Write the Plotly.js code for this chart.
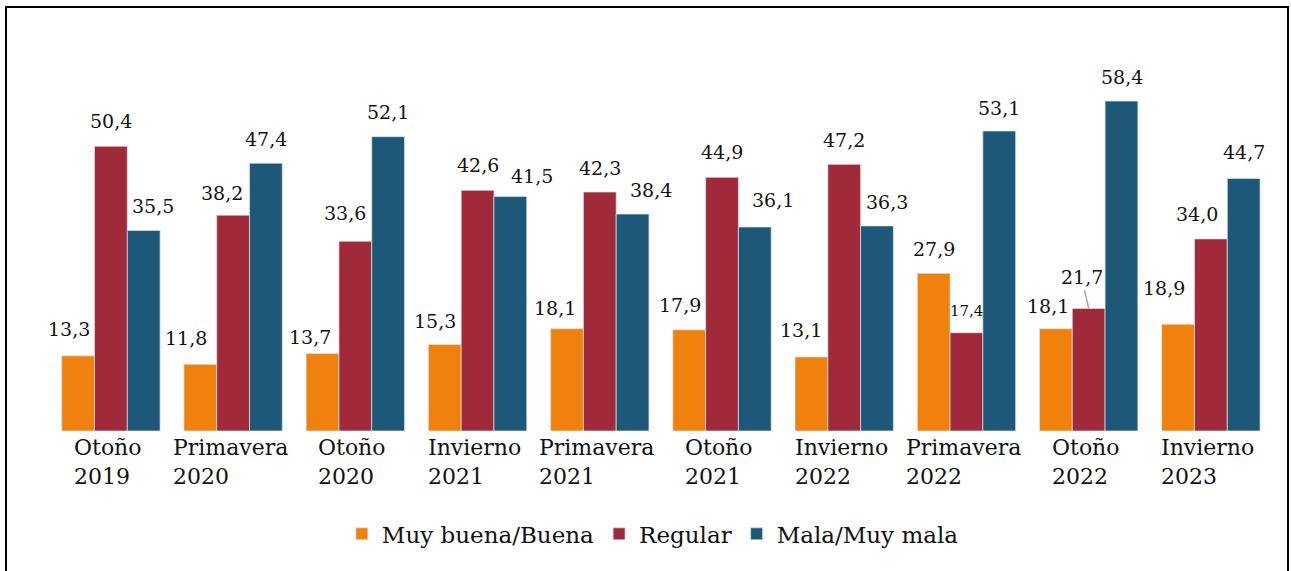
<!DOCTYPE html>
<html>
<head>
<meta charset="utf-8">
<script src="https://cdn.plot.ly/plotly-3.0.1.min.js"></script>
<style>
html,body{margin:0;padding:0;background:#fff;}
#chart{width:1291px;height:571px;}
</style>
</head>
<body>
<div id="chart"></div>
<script>
const categories = ["Otoño 2019","Primavera 2020","Otoño 2020","Invierno 2021","Primavera 2021","Otoño 2021","Invierno 2022","Primavera 2022","Otoño 2022","Invierno 2023"];
const seriesNames = ["Muy buena/Buena","Regular","Mala/Muy mala"];
const buena   = [13.3, 11.8, 13.7, 15.3, 18.1, 17.9, 13.1, 27.9, 18.1, 18.9];
const regular = [50.4, 38.2, 33.6, 42.6, 42.3, 44.9, 47.2, 17.4, 21.7, 34.0];
const mala    = [35.5, 47.4, 52.1, 41.5, 38.4, 36.1, 36.3, 53.1, 58.4, 44.7];
const colors = ["#F0810D","#A02A3A","#1E5878"];

const W = 1291, H = 571;
const margin = {l:46, r:19, t:50, b:140};
const plotW = W - margin.l - margin.r;
const plotH = H - margin.t - margin.b;
const bargap = 0.195;
const catW = plotW / categories.length;
const barW = catW * (1 - bargap) / 3;
const FONT = "DejaVu Serif, Liberation Serif, serif";

// label placement tweaks in pixels (style only): horizontal offset and gap above bar
const labelDx = [
  [-9, -14, -12, -10, -12, -9, -10, 0, -8, -14],
  [0, -11, -10, 0, 0, 0, 0, 0, -7, -14],
  [9, 0, 0, 22, 18, 18, 10, 0, 0, 0]
];
const labelGap = [
  [27, 26, 17, 24, 21, 25, 27, 24, 23, 36],
  [25, 22, 28, 25, 24, 25, 24, 22, 31, 25],
  [24, 24, 25, 21, 24, 27, 24, 23, 24, 26]
];

const allSeries = [buena, regular, mala];
const traces = allSeries.map((vals, i) => ({
  type: "bar",
  name: seriesNames[i],
  x: categories,
  y: vals,
  marker: {color: colors[i], line: {color: "rgba(220,230,240,0.7)", width: 1}},
  hoverinfo: "skip"
}));

const fmt = v => v.toFixed(1).replace(".", ",");

const annotations = [];
allSeries.forEach((vals, i) => {
  vals.forEach((v, j) => {
    const baseShift = (i - 1) * barW;
    const small = (i === 1 && j === 7);
    const leader = (i === 1 && j === 8);
    if (leader) {
      annotations.push({
        x: categories[j], y: v, xref: "x", yref: "y",
        text: fmt(v), showarrow: true, arrowhead: 0, arrowwidth: 1.5, arrowcolor: "#A6A6A6",
        ax: labelDx[i][j], ay: -labelGap[i][j], xshift: baseShift, standoff: 0,
        font: {family: FONT, size: 19, color: "#111"}
      });
      return;
    }
    annotations.push({
      x: categories[j], y: v, xref: "x", yref: "y",
      text: fmt(v), showarrow: false,
      xanchor: "center", yanchor: "middle",
      xshift: baseShift + labelDx[i][j],
      yshift: labelGap[i][j],
      font: {family: FONT, size: small ? 15 : 19, color: "#111"}
    });
  });
});

// category labels: two lines, left-aligned block centred under each group
categories.forEach(c => {
  annotations.push({
    x: c, y: 0, xref: "x", yref: "paper",
    text: c.replace(" ", "<br>"), showarrow: false,
    xanchor: "center", yanchor: "middle", align: "left",
    xshift: -3, yshift: -31,
    font: {family: FONT, size: 22, color: "#111"}
  });
});

const layout = {
  width: W, height: H,
  margin: margin,
  paper_bgcolor: "#fff", plot_bgcolor: "#fff",
  barmode: "group",
  bargap: bargap, bargroupgap: 0,
  font: {family: FONT, color: "#111"},
  xaxis: {
    type: "category",
    showgrid: false, zeroline: false, showline: false,
    ticks: "", showticklabels: false,
    automargin: false
  },
  yaxis: {
    range: [0, plotH / 5.65],
    showgrid: false, zeroline: false, showline: false,
    showticklabels: false, ticks: ""
  },
  showlegend: true,
  legend: {
    orientation: "h", x: 0.495, xanchor: "center", y: -0.27, yanchor: "middle",
    font: {family: FONT, size: 23, color: "#111"},
    traceorder: "normal", itemwidth: 30
  },
  annotations: annotations,
  shapes: [{
    type: "rect", xref: "paper", yref: "paper",
    x0: (6 - margin.l) / plotW, x1: (1288 - margin.l) / plotW,
    y0: (H - margin.b - 580) / plotH, y1: (H - margin.b - 7) / plotH,
    line: {color: "#000", width: 2}, fillcolor: "rgba(0,0,0,0)", layer: "above"
  }]
};

Plotly.newPlot("chart", traces, layout, {displayModeBar: false, staticPlot: true});
</script>
</body>
</html>
